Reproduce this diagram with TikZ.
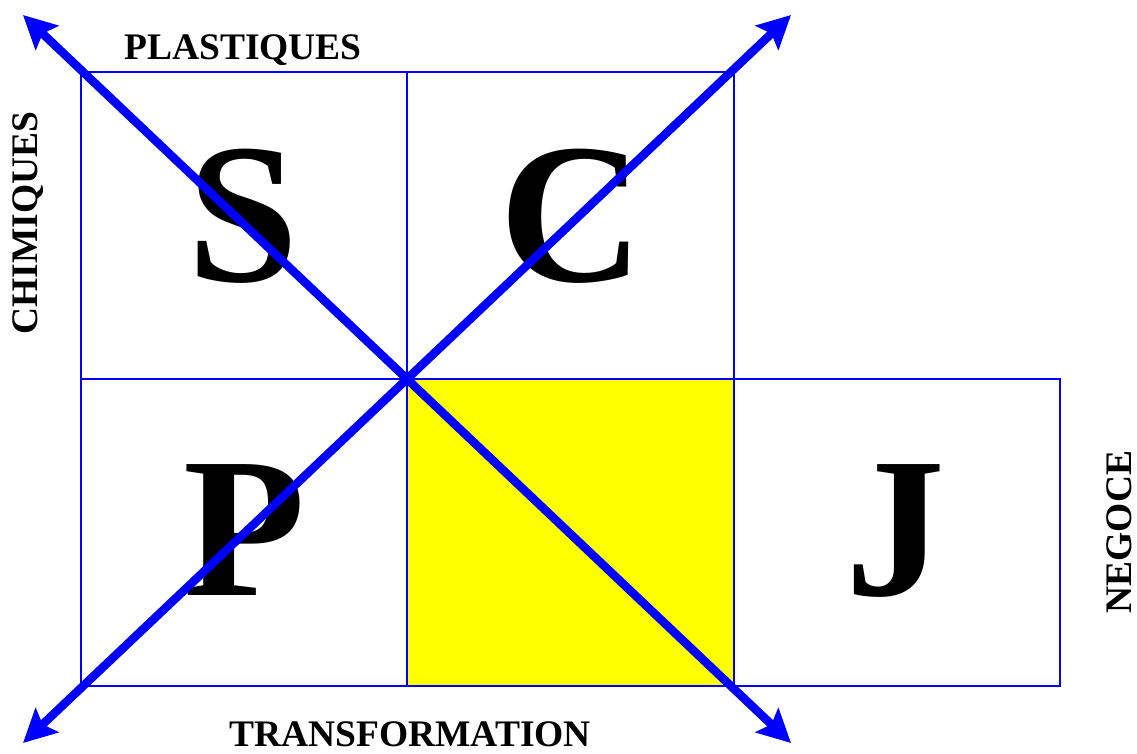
\documentclass[tikz,border=0pt]{standalone}
\usepackage{fontspec}
\setmainfont{Liberation Serif}
\usetikzlibrary{arrows.meta}
\definecolor{gridblue}{RGB}{0,0,255}
\definecolor{cellyellow}{RGB}{255,255,0}
\tikzset{
  grid/.style={draw=gridblue,line width=2pt},
  diag/.style={gridblue,line width=8.5pt,{Stealth[length=33pt,width=33pt,inset=6pt]}-{Stealth[length=33pt,width=33pt,inset=6pt]}},
  bigletter/.style={anchor=base,font=\bfseries\fontsize{200}{200}\selectfont},
  sidelabel/.style={anchor=base,font=\bfseries\fontsize{37.5}{40}\selectfont}
}
\begin{document}
\begin{tikzpicture}[x=1pt,y=-1pt]
\useasboundingbox (0,0) rectangle (1137,754);
% Cells
\fill[cellyellow] (407,379) rectangle (734,686);
\draw[grid] (81,72) rectangle (407,379);
\draw[grid] (407,72) rectangle (734,379);
\draw[grid] (81,379) rectangle (407,686);
\draw[grid] (407,379) rectangle (734,686);
\draw[grid] (734,379) rectangle (1060,686);
% Letters
\node[bigletter] (s) at (243,281) {S};
\node[bigletter] (c) at (572,281) {C};
\node[bigletter] (p) at (245,595) {P};
\node[bigletter] (j) at (895,595) {J};
% Side labels
\node[sidelabel] (plast) at (243,60) {PLASTIQUES};
\node[sidelabel] (transf) at (410,746) {TRANSFORMATION};
\node[sidelabel,rotate=90] (chim) at (37,223) {CHIMIQUES};
\node[sidelabel,rotate=90] (neg) at (1131,532) {NEGOCE};
% Diagonals
\coordinate (nw) at (23,15);
\coordinate (se) at (791,743);
\coordinate (sw) at (23,743);
\coordinate (ne) at (791,15);
\draw[diag] (nw) -- (se);
\draw[diag] (sw) -- (ne);
\end{tikzpicture}
\end{document}
